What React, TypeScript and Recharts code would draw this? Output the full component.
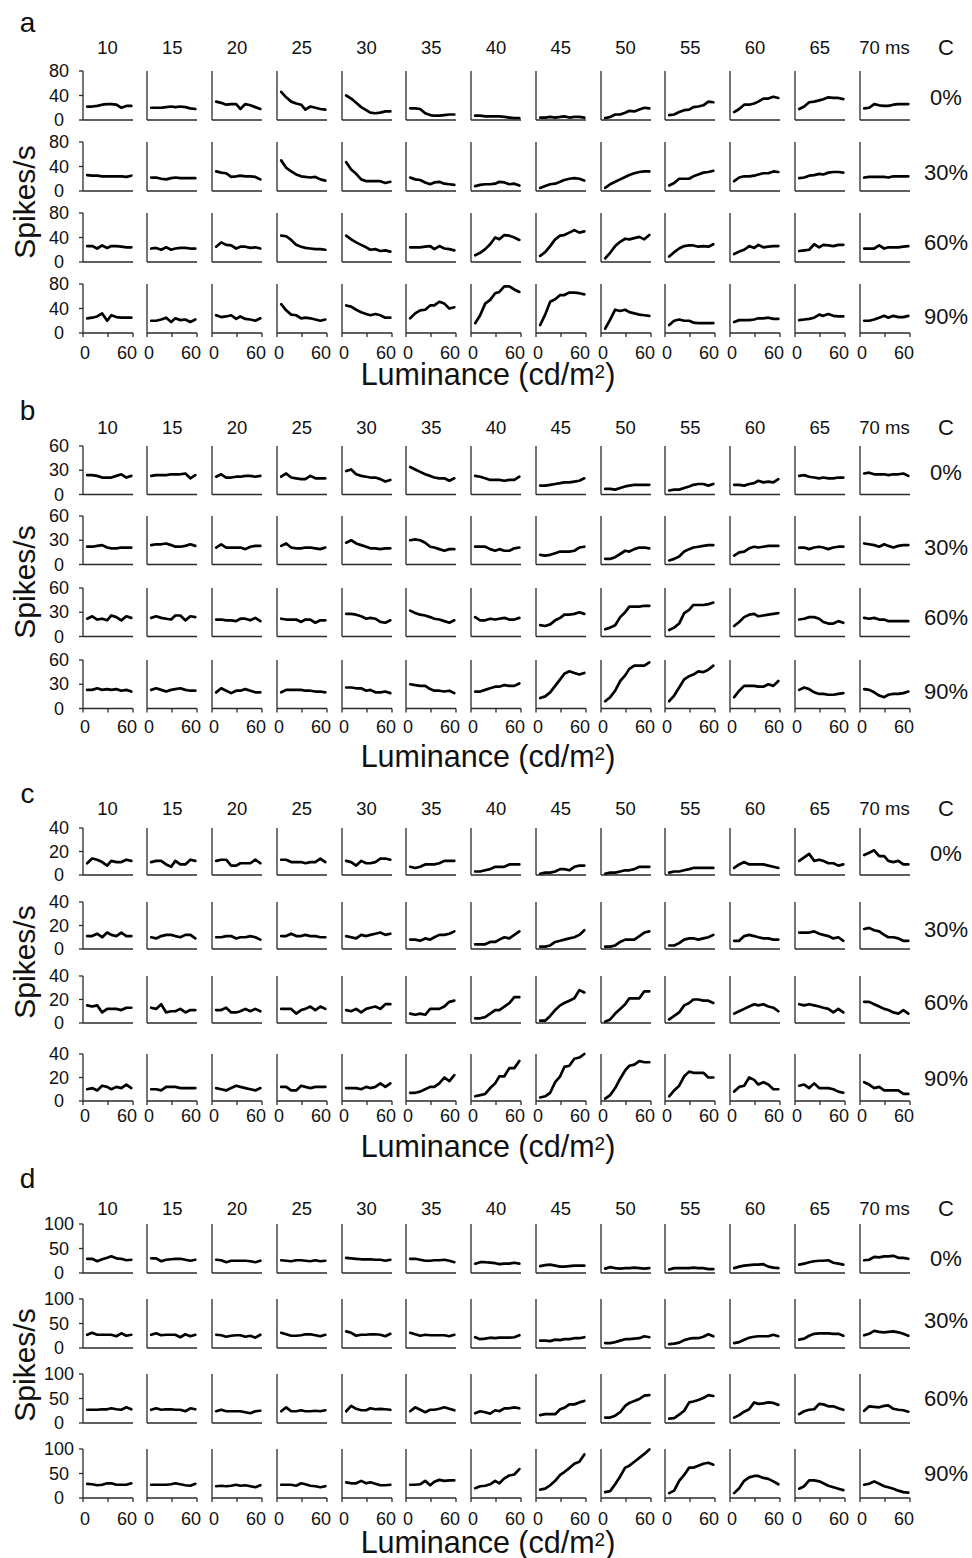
import { LineChart, Line, XAxis, YAxis } from "recharts";

// luminance sample points (cd/m2), shared by every small plot
const luminance = [5, 11, 17, 23, 29, 34, 40, 46, 52, 58];
const delays = ["10", "15", "20", "25", "30", "35", "40", "45", "50", "55", "60", "65", "70 ms"];
const contrasts = ["0%", "30%", "60%", "90%"];

// panel a, spikes/s, one list per delay column
const a0 = [
  [22, 22, 23, 25, 26, 26, 25, 20, 23, 23],
  [20, 20, 20, 21, 22, 21, 22, 21, 19, 18],
  [30, 28, 25, 26, 26, 18, 26, 24, 21, 18],
  [46, 37, 30, 27, 25, 17, 22, 20, 18, 17],
  [40, 35, 28, 21, 16, 12, 11, 12, 14, 14],
  [19, 19, 18, 11, 8, 7, 7, 8, 9, 9],
  [7, 7, 6, 6, 6, 6, 5, 4, 3, 3],
  [4, 4, 5, 4, 5, 6, 4, 5, 5, 4],
  [3, 5, 9, 9, 12, 15, 14, 17, 20, 19],
  [8, 9, 13, 16, 17, 21, 22, 24, 30, 29],
  [13, 18, 25, 25, 27, 30, 35, 35, 38, 36],
  [18, 22, 29, 30, 32, 34, 37, 36, 36, 34],
  [19, 20, 26, 24, 23, 23, 25, 26, 26, 26],
];
const a30 = [
  [26, 25, 25, 24, 24, 24, 24, 24, 23, 25],
  [22, 22, 20, 19, 21, 22, 21, 21, 21, 21],
  [32, 30, 29, 23, 24, 25, 24, 24, 23, 19],
  [50, 38, 32, 27, 24, 23, 22, 23, 19, 17],
  [47, 35, 28, 19, 16, 16, 16, 16, 13, 15],
  [22, 19, 18, 14, 11, 14, 15, 12, 11, 10],
  [8, 10, 11, 11, 12, 15, 14, 11, 12, 9],
  [5, 8, 11, 12, 15, 18, 20, 21, 20, 17],
  [5, 11, 15, 19, 23, 26, 29, 31, 32, 32],
  [9, 13, 20, 20, 20, 24, 27, 30, 31, 33],
  [16, 22, 24, 24, 25, 27, 29, 29, 32, 31],
  [21, 22, 25, 26, 28, 27, 30, 31, 31, 30],
  [22, 23, 23, 23, 23, 22, 24, 24, 24, 24],
];
const a60 = [
  [26, 26, 22, 27, 23, 26, 26, 25, 24, 24],
  [22, 23, 20, 24, 20, 22, 23, 23, 22, 22],
  [25, 32, 28, 27, 22, 25, 25, 23, 24, 22],
  [43, 42, 36, 28, 25, 23, 22, 21, 21, 20],
  [43, 37, 32, 28, 24, 20, 21, 18, 19, 17],
  [24, 24, 24, 25, 26, 21, 26, 22, 21, 19],
  [11, 15, 21, 29, 40, 37, 44, 43, 40, 36],
  [10, 16, 26, 37, 43, 44, 48, 52, 48, 50],
  [6, 15, 26, 33, 38, 37, 39, 41, 37, 44],
  [9, 16, 22, 26, 27, 27, 25, 26, 25, 29],
  [13, 17, 20, 26, 23, 28, 24, 25, 26, 26],
  [18, 19, 20, 29, 24, 28, 27, 26, 28, 28],
  [22, 22, 22, 27, 22, 24, 24, 24, 25, 26],
];
const a90 = [
  [24, 25, 27, 32, 20, 29, 26, 25, 25, 25],
  [20, 20, 22, 25, 18, 24, 21, 22, 18, 22],
  [29, 26, 27, 29, 23, 27, 23, 22, 20, 24],
  [47, 37, 30, 29, 24, 25, 24, 22, 20, 22],
  [45, 43, 38, 34, 31, 29, 31, 29, 25, 25],
  [24, 32, 37, 38, 45, 45, 51, 48, 40, 42],
  [16, 29, 48, 54, 65, 67, 76, 76, 71, 67],
  [13, 30, 51, 55, 62, 62, 66, 66, 65, 63],
  [7, 22, 38, 36, 38, 34, 32, 30, 29, 28],
  [13, 20, 22, 20, 20, 17, 16, 16, 16, 16],
  [18, 21, 21, 21, 22, 24, 24, 25, 23, 23],
  [21, 22, 23, 25, 30, 28, 31, 28, 27, 27],
  [20, 20, 22, 25, 28, 25, 28, 26, 26, 28],
];

// panel b
const b0 = [
  [24, 24, 23, 21, 21, 21, 23, 25, 21, 23],
  [23, 24, 24, 24, 25, 25, 25, 26, 20, 24],
  [22, 25, 21, 21, 22, 22, 23, 23, 22, 23],
  [22, 26, 21, 20, 19, 19, 23, 20, 20, 20],
  [29, 31, 25, 23, 22, 21, 21, 19, 16, 18],
  [34, 31, 28, 25, 23, 21, 20, 20, 17, 20],
  [23, 22, 20, 18, 18, 18, 17, 18, 18, 22],
  [11, 11, 12, 13, 14, 15, 15, 16, 17, 20],
  [7, 7, 6, 8, 10, 11, 12, 12, 12, 12],
  [5, 6, 6, 8, 10, 12, 13, 13, 11, 13],
  [12, 12, 11, 13, 14, 17, 15, 16, 15, 19],
  [23, 24, 22, 21, 20, 21, 20, 20, 21, 21],
  [26, 27, 25, 25, 25, 24, 25, 25, 26, 23],
];
const b30 = [
  [22, 22, 23, 24, 21, 20, 20, 21, 21, 21],
  [24, 25, 25, 26, 24, 22, 22, 23, 25, 23],
  [21, 25, 21, 21, 21, 21, 19, 22, 23, 23],
  [23, 26, 21, 20, 20, 21, 21, 20, 19, 21],
  [27, 30, 26, 24, 22, 20, 20, 19, 20, 20],
  [30, 31, 30, 27, 22, 21, 19, 17, 19, 19],
  [22, 22, 22, 19, 17, 19, 17, 17, 20, 21],
  [12, 11, 12, 14, 16, 16, 16, 17, 21, 22],
  [7, 7, 9, 13, 17, 16, 19, 21, 21, 20],
  [5, 7, 10, 16, 19, 21, 22, 23, 24, 24],
  [11, 15, 16, 20, 22, 21, 22, 23, 23, 23],
  [21, 21, 19, 21, 22, 21, 19, 21, 22, 22],
  [26, 25, 24, 22, 25, 23, 21, 23, 24, 24],
];
const b60 = [
  [22, 25, 21, 22, 20, 26, 24, 20, 25, 23],
  [23, 25, 23, 22, 21, 26, 26, 20, 25, 24],
  [21, 21, 20, 20, 19, 22, 22, 20, 23, 19],
  [22, 21, 21, 21, 18, 21, 21, 17, 20, 20],
  [28, 28, 27, 25, 22, 23, 22, 18, 17, 20],
  [32, 29, 27, 26, 24, 22, 21, 19, 17, 20],
  [24, 20, 20, 22, 21, 22, 23, 21, 21, 23],
  [14, 13, 15, 20, 23, 27, 27, 28, 30, 28],
  [9, 11, 14, 24, 30, 37, 37, 37, 38, 38],
  [8, 11, 16, 29, 33, 39, 39, 39, 40, 42],
  [13, 18, 24, 27, 28, 25, 26, 27, 28, 29],
  [21, 22, 24, 24, 22, 18, 16, 16, 19, 17],
  [23, 22, 23, 21, 21, 19, 19, 19, 19, 19],
];
const b90 = [
  [23, 23, 25, 23, 24, 23, 24, 22, 23, 21],
  [23, 25, 23, 21, 23, 24, 25, 23, 22, 22],
  [20, 25, 22, 19, 22, 22, 24, 22, 20, 20],
  [20, 23, 23, 23, 23, 22, 22, 21, 21, 20],
  [26, 26, 25, 25, 22, 23, 20, 20, 21, 19],
  [30, 29, 28, 28, 24, 22, 22, 21, 22, 19],
  [21, 21, 23, 25, 27, 27, 29, 28, 28, 31],
  [13, 15, 20, 28, 36, 43, 46, 44, 42, 44],
  [9, 14, 22, 34, 41, 49, 53, 53, 53, 57],
  [9, 16, 26, 36, 40, 42, 46, 45, 48, 53],
  [14, 22, 28, 28, 28, 27, 27, 30, 28, 34],
  [23, 26, 24, 20, 18, 18, 17, 17, 18, 19],
  [24, 23, 20, 16, 14, 17, 18, 18, 19, 21],
];

// panel c
const c0 = [
  [10, 14, 13, 11, 8, 12, 11, 11, 13, 12],
  [11, 12, 12, 9, 7, 12, 9, 9, 13, 12],
  [12, 13, 13, 8, 8, 10, 10, 10, 13, 10],
  [13, 13, 11, 11, 11, 10, 11, 11, 14, 11],
  [12, 11, 8, 12, 10, 10, 11, 14, 14, 13],
  [7, 6, 7, 9, 9, 9, 10, 12, 12, 12],
  [3, 3, 4, 5, 7, 7, 7, 9, 9, 9],
  [1, 2, 2, 3, 5, 5, 4, 7, 8, 8],
  [1, 2, 2, 3, 4, 4, 5, 7, 7, 7],
  [2, 3, 3, 4, 5, 6, 6, 6, 6, 6],
  [6, 9, 11, 9, 9, 9, 9, 8, 7, 6],
  [12, 15, 18, 12, 13, 12, 10, 10, 8, 9],
  [17, 19, 21, 16, 16, 12, 11, 12, 9, 9],
];
const c30 = [
  [11, 11, 13, 10, 14, 12, 11, 14, 11, 11],
  [10, 9, 11, 12, 12, 11, 10, 12, 12, 9],
  [10, 10, 11, 11, 9, 10, 10, 11, 10, 8],
  [11, 11, 13, 11, 11, 12, 11, 11, 10, 10],
  [11, 10, 9, 12, 11, 12, 13, 14, 12, 13],
  [8, 8, 7, 9, 8, 10, 12, 12, 13, 15],
  [4, 4, 4, 6, 6, 8, 10, 9, 12, 15],
  [2, 2, 3, 6, 7, 8, 9, 10, 12, 16],
  [2, 2, 3, 6, 8, 8, 8, 11, 14, 15],
  [3, 3, 5, 8, 9, 9, 8, 9, 10, 12],
  [7, 7, 11, 12, 11, 10, 9, 9, 8, 8],
  [14, 14, 14, 15, 13, 12, 11, 9, 10, 7],
  [17, 18, 16, 15, 12, 10, 10, 9, 7, 7],
];
const c60 = [
  [15, 14, 15, 9, 12, 12, 12, 11, 13, 13],
  [13, 12, 16, 9, 10, 10, 12, 9, 11, 11],
  [11, 11, 13, 9, 9, 10, 12, 10, 12, 10],
  [12, 12, 12, 8, 11, 12, 14, 11, 14, 12],
  [11, 10, 12, 9, 12, 13, 14, 12, 16, 16],
  [8, 7, 8, 7, 12, 12, 12, 14, 18, 19],
  [4, 4, 5, 8, 11, 11, 14, 17, 22, 22],
  [2, 2, 6, 11, 15, 17, 19, 21, 28, 26],
  [1, 3, 8, 12, 16, 21, 21, 21, 27, 27],
  [3, 6, 9, 15, 17, 20, 20, 19, 19, 17],
  [8, 10, 12, 14, 16, 15, 16, 14, 13, 10],
  [16, 15, 16, 15, 14, 13, 12, 9, 12, 9],
  [18, 18, 16, 14, 12, 11, 9, 8, 11, 8],
];
const c90 = [
  [10, 11, 9, 13, 12, 10, 12, 11, 14, 11],
  [10, 10, 9, 12, 12, 12, 11, 11, 11, 11],
  [11, 10, 9, 11, 13, 12, 11, 10, 9, 11],
  [12, 12, 9, 9, 13, 12, 11, 12, 12, 12],
  [11, 11, 11, 10, 12, 11, 12, 15, 12, 15],
  [7, 7, 8, 10, 12, 12, 15, 20, 17, 22],
  [4, 5, 6, 11, 15, 21, 21, 28, 28, 34],
  [3, 4, 7, 16, 21, 29, 30, 36, 37, 40],
  [2, 5, 11, 19, 26, 30, 31, 34, 33, 33],
  [4, 9, 13, 21, 25, 24, 24, 24, 20, 20],
  [8, 12, 13, 20, 18, 14, 16, 14, 10, 10],
  [13, 14, 11, 15, 11, 11, 11, 10, 8, 7],
  [16, 14, 11, 12, 9, 9, 9, 9, 6, 6],
];

// panel d
const d0 = [
  [29, 29, 24, 28, 31, 34, 30, 29, 26, 27],
  [30, 30, 24, 27, 28, 29, 29, 27, 25, 27],
  [27, 26, 22, 25, 25, 25, 25, 24, 22, 25],
  [26, 25, 24, 26, 26, 25, 24, 26, 24, 25],
  [31, 30, 29, 28, 28, 28, 27, 27, 25, 27],
  [29, 29, 27, 25, 25, 26, 26, 27, 25, 22],
  [19, 22, 22, 21, 20, 18, 19, 19, 21, 19],
  [14, 16, 17, 15, 13, 13, 14, 15, 15, 15],
  [9, 12, 10, 9, 10, 10, 11, 10, 9, 10],
  [7, 10, 10, 10, 10, 11, 10, 10, 8, 8],
  [10, 13, 15, 16, 17, 17, 18, 13, 11, 10],
  [17, 19, 22, 24, 25, 25, 26, 21, 19, 17],
  [26, 27, 33, 32, 34, 34, 35, 31, 31, 29],
];
const d30 = [
  [27, 31, 27, 27, 27, 27, 24, 30, 25, 27],
  [27, 30, 26, 27, 27, 27, 22, 28, 24, 27],
  [27, 26, 23, 25, 26, 26, 23, 25, 21, 27],
  [31, 28, 25, 25, 26, 28, 28, 26, 24, 27],
  [34, 31, 25, 27, 27, 28, 28, 27, 24, 29],
  [31, 28, 25, 27, 26, 26, 26, 26, 24, 27],
  [22, 18, 19, 21, 20, 21, 21, 21, 22, 26],
  [15, 15, 14, 17, 16, 18, 18, 20, 20, 22],
  [10, 10, 12, 15, 18, 18, 19, 20, 24, 22],
  [8, 9, 11, 16, 19, 20, 20, 23, 28, 24],
  [10, 12, 17, 21, 23, 24, 24, 24, 27, 24],
  [17, 19, 25, 29, 30, 30, 30, 29, 29, 25],
  [26, 29, 35, 33, 32, 33, 34, 32, 29, 25],
];
const d60 = [
  [27, 27, 27, 28, 28, 30, 28, 27, 32, 28],
  [27, 30, 27, 28, 28, 27, 27, 24, 30, 28],
  [24, 27, 24, 24, 24, 24, 22, 20, 24, 25],
  [24, 32, 24, 24, 26, 24, 24, 25, 24, 26],
  [24, 35, 29, 26, 26, 30, 28, 29, 28, 27],
  [24, 32, 27, 22, 27, 27, 29, 32, 29, 26],
  [20, 24, 22, 19, 26, 24, 30, 30, 32, 30],
  [16, 18, 18, 18, 28, 31, 38, 38, 42, 45],
  [11, 11, 15, 22, 35, 41, 45, 49, 56, 57],
  [9, 10, 17, 25, 42, 44, 47, 51, 57, 55],
  [11, 16, 23, 28, 42, 39, 40, 42, 41, 37],
  [18, 24, 27, 28, 39, 38, 34, 34, 30, 27],
  [25, 34, 33, 32, 35, 36, 29, 27, 26, 23],
];
const d90 = [
  [29, 28, 26, 27, 30, 30, 27, 27, 27, 30],
  [27, 27, 27, 27, 28, 30, 28, 26, 25, 29],
  [24, 25, 24, 25, 27, 25, 26, 24, 22, 26],
  [27, 27, 27, 25, 30, 28, 25, 24, 22, 24],
  [32, 30, 30, 35, 30, 32, 29, 26, 26, 27],
  [27, 27, 28, 35, 26, 33, 37, 35, 36, 36],
  [20, 24, 25, 28, 35, 30, 40, 46, 48, 59],
  [17, 19, 26, 35, 47, 53, 61, 70, 74, 89],
  [12, 14, 28, 44, 62, 66, 74, 82, 90, 99],
  [10, 15, 35, 47, 62, 62, 66, 70, 72, 68],
  [10, 20, 35, 42, 45, 45, 41, 39, 34, 28],
  [19, 24, 36, 36, 34, 30, 25, 22, 19, 16],
  [27, 29, 34, 29, 24, 22, 19, 15, 12, 11],
];

const FONT = "'Liberation Sans', Arial, Helvetica, sans-serif";
const AXIS = "#2a2a2a";
const YW = 50; // space left of each plot (y ticks)
const XH = 40; // space under each plot (x ticks)
const TOP = 14; // room above the plot so the top tick label is not clipped
const RIGHT = 14;
const PLOT_W = 50;
const colX = (i: number) => 82.5 + 64.75 * i;

// lumBase is the baseline of the "Luminance" axis title
const panels = [
  { letter: "a", max: 80, rows: [a0, a30, a60, a90], tops: [71, 142.3, 213.3, 284], plotH: 49, letterY: 31.5, titleY: 47, rowLabelY: [97.5, 172, 242, 316], tickOff: 19.5, lumBase: 385, spikesY: 202 },
  { letter: "b", max: 60, rows: [b0, b30, b60, b90], tops: [446, 515.5, 587.5, 659.5], plotH: 48.5, letterY: 420, titleY: 427, rowLabelY: [472, 547, 617, 691], tickOff: 18.7, lumBase: 766.5, spikesY: 582 },
  { letter: "c", max: 40, rows: [c0, c30, c60, c90], tops: [828, 902, 976, 1053.5], plotH: 47, letterY: 803, titleY: 808.5, rowLabelY: [853, 929, 1002, 1078], tickOff: 15, lumBase: 1156.5, spikesY: 962 },
  { letter: "d", max: 100, rows: [d0, d30, d60, d90], tops: [1224.3, 1299.3, 1374.3, 1449.3], plotH: 49, letterY: 1188, titleY: 1208, rowLabelY: [1258, 1320, 1398, 1473], tickOff: 20.5, lumBase: 1553.3, spikesY: 1365 },
];

type CellProps = {
  values: number[];
  max: number;
  plotH: number;
  x: number;
  y: number;
  firstCol: boolean;
  lastRow: boolean;
  tickOff: number;
};

function Cell({ values, max, plotH, x, y, firstCol, lastRow, tickOff }: CellProps) {
  const data = luminance.map((lum, i) => ({ lum, rate: values[i] }));
  const axisY = TOP + plotH;
  const line = { stroke: AXIS, strokeWidth: 1.3 };

  // eslint-disable-next-line @typescript-eslint/no-explicit-any
  const xTick = (p: any) => {
    const v = p.payload.value;
    if (v === 30) return <g />;
    return (
      <text x={p.x + (v === 60 ? -6 : 2)} y={axisY + tickOff} textAnchor="middle" dominantBaseline="central" fontSize={18} fontFamily={FONT} fill="#111">
        {v}
      </text>
    );
  };
  // eslint-disable-next-line @typescript-eslint/no-explicit-any
  const yTick = (p: any) => (
    <text x={YW - 24} y={p.y} textAnchor="middle" dominantBaseline="central" fontSize={18} fontFamily={FONT} fill="#111">
      {p.payload.value}
    </text>
  );

  return (
    <div style={{ position: "absolute", left: x - YW, top: y - TOP }}>
      <LineChart width={YW + PLOT_W + RIGHT} height={TOP + plotH + XH} data={data} margin={{ top: TOP, right: RIGHT, bottom: 0, left: 0 }}>
        <XAxis
          type="number"
          dataKey="lum"
          domain={[0, 60]}
          ticks={[0, 30, 60]}
          interval={0}
          height={XH}
          axisLine={line}
          tickLine={lastRow ? line : false}
          tickSize={4}
          tick={lastRow ? xTick : false}
        />
        <YAxis
          type="number"
          domain={[0, max]}
          ticks={[0, max / 2, max]}
          interval={0}
          width={YW}
          axisLine={line}
          tickLine={firstCol ? line : false}
          tickSize={4}
          tick={firstCol ? yTick : false}
        />
        <Line
          type="linear"
          dataKey="rate"
          stroke="#000"
          strokeWidth={2.7}
          strokeLinejoin="round"
          strokeLinecap="round"
          dot={false}
          activeDot={false}
          isAnimationActive={false}
        />
      </LineChart>
    </div>
  );
}

export default function App() {
  return (
    <div style={{ position: "absolute", left: 0, top: 0, width: 972, height: 1558, background: "#fff", overflow: "hidden" }}>
      {panels.map((p) =>
        p.rows.map((row, r) =>
          row.map((values, c) => (
            <Cell
              key={`${p.letter}-${r}-${c}`}
              values={values}
              max={p.max}
              plotH={p.plotH}
              x={colX(c)}
              y={p.tops[r]}
              firstCol={c === 0}
              lastRow={r === 3}
              tickOff={p.tickOff}
            />
          ))
        )
      )}
      <svg width={972} height={1558} style={{ position: "absolute", left: 0, top: 0, pointerEvents: "none" }} fontFamily={FONT} fill="#111">
        {panels.map((p) => (
          <g key={p.letter}>
            <text x={27.5} y={p.letterY} fontSize={28} textAnchor="middle">
              {p.letter}
            </text>
            {delays.map((d, i) => (
              <text key={d} x={colX(i) + 25} y={p.titleY} fontSize={18.5} textAnchor="middle" dominantBaseline="central">
                {d}
              </text>
            ))}
            <text x={946} y={p.titleY} fontSize={22} textAnchor="middle" dominantBaseline="central">
              C
            </text>
            {contrasts.map((c, r) => (
              <text key={c} x={946} y={p.rowLabelY[r]} fontSize={22} textAnchor="middle" dominantBaseline="central">
                {c}
              </text>
            ))}
            <text x={35} y={p.spikesY} fontSize={30} textAnchor="middle" transform={`rotate(-90 35 ${p.spikesY})`}>
              Spikes/s
            </text>
            <text x={488} y={p.lumBase} fontSize={30.5} textAnchor="middle">
              Luminance (cd/m
              <tspan dy={-7} fontSize={19}>
                2
              </tspan>
              <tspan dy={7}>)</tspan>
            </text>
          </g>
        ))}
      </svg>
    </div>
  );
}
